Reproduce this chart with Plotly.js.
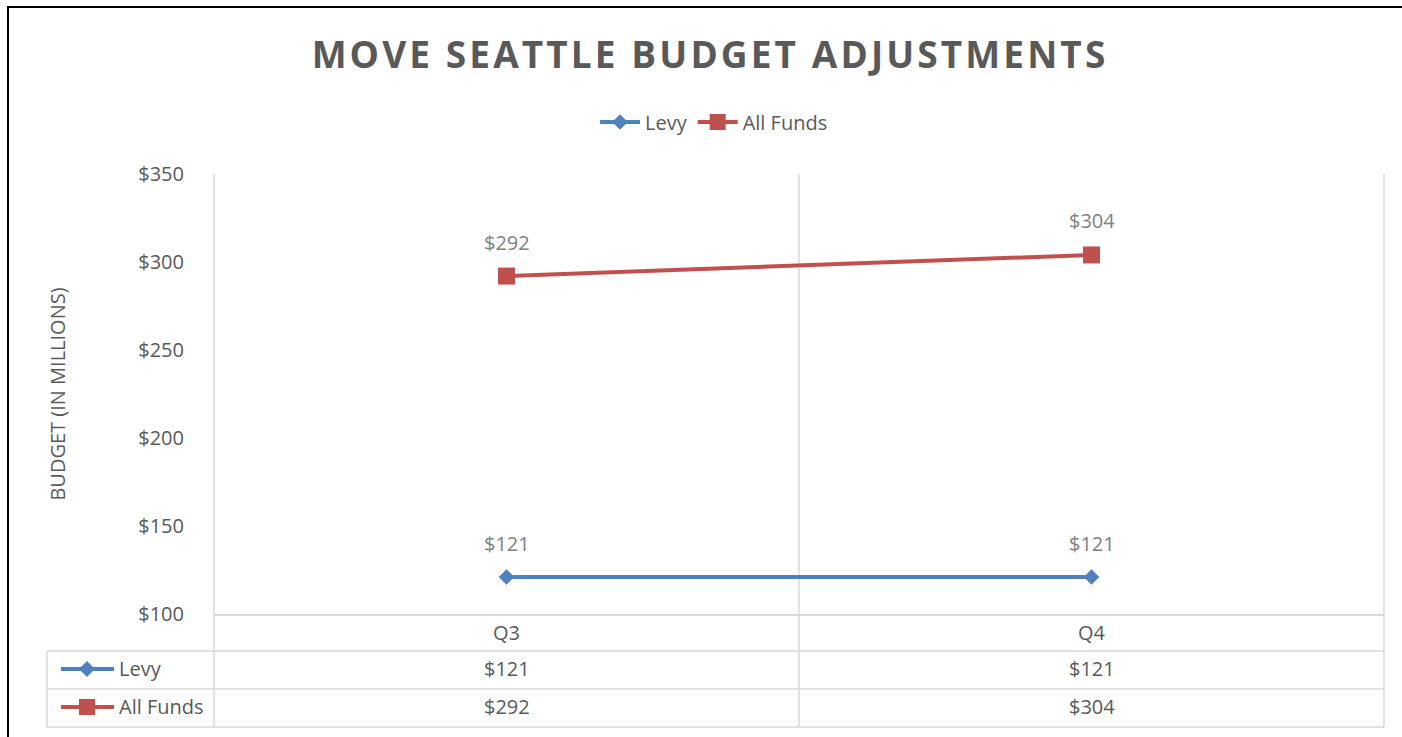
<!DOCTYPE html>
<html><head><meta charset="utf-8">
<script src="https://cdn.plot.ly/plotly-3.0.1.min.js"></script>
<style>html,body{margin:0;padding:0;background:#fff;} #chart{width:1402px;height:737px;}</style>
</head><body><div id="chart"></div>
<script>
// ---- data ----
const categories = ['Q3', 'Q4'];
const seriesNames = ['Levy', 'All Funds'];
const levyValues = [121, 121];
const allFundsValues = [292, 304];
const yTickValues = [100, 150, 200, 250, 300, 350];
const yTickLabels = ['$100', '$150', '$200', '$250', '$300', '$350'];
const chartTitle = 'MOVE SEATTLE BUDGET ADJUSTMENTS';
const yAxisTitle = 'BUDGET (IN MILLIONS)';

// ---- geometry helpers ----
const W = 1402, H = 737, L = 214, R = 1384, T = 174, B = 614;
const px = x => (x - L) / (R - L);
const py = y => (B - y) / (B - T);
const grid = '#d9d9d9', txt = '#595959', lbl = '#7f7f7f';
const blue = '#4F81BD', red = '#C0504D';
const FONT = '"Open Sans", sans-serif';
const fmt = v => '$' + v;

const series = [
  {name: seriesNames[0], values: levyValues, color: blue, symbol: 'diamond', size: 12},
  {name: seriesNames[1], values: allFundsValues, color: red, symbol: 'square', size: 17}
];

const traces = series.map(s => ({
  type: 'scatter', mode: 'lines+markers', x: categories, y: s.values, name: s.name,
  line: {color: s.color, width: 4},
  marker: {symbol: s.symbol, size: s.size, color: s.color},
  hoverinfo: 'skip', cliponaxis: false
}));

const annotations = [];
const rowCenters = [668, 706];
series.forEach((s, i) => {
  s.values.forEach((v, j) => {
    // data labels
    annotations.push({x: categories[j], y: v, xref: 'x', yref: 'y', text: fmt(v), showarrow: false,
      yshift: 34, font: {family: FONT, size: 20, color: lbl}});
    // data table values
    annotations.push({x: categories[j], y: py(rowCenters[i]), xref: 'x', yref: 'paper', text: fmt(v),
      showarrow: false, yanchor: 'middle', font: {family: FONT, size: 20, color: txt}});
  });
  annotations.push({x: px(117), y: py(rowCenters[i]), xref: 'paper', yref: 'paper', text: s.name,
    showarrow: false, xanchor: 'left', yanchor: 'middle', font: {family: FONT, size: 20, color: txt}});
});

const gl = {color: grid, width: 1.5};
const shapes = [];
// vertical grid/table lines
[214, 799, 1384].forEach(x => shapes.push({type: 'line', xref: 'paper', yref: 'paper',
  x0: px(x), x1: px(x), y0: py(174), y1: py(727), line: gl, layer: 'below'}));
// table horizontal lines
[651, 689, 727].forEach(y => shapes.push({type: 'line', xref: 'paper', yref: 'paper',
  x0: px(47), x1: px(1384), y0: py(y), y1: py(y), line: gl, layer: 'below'}));
shapes.push({type: 'line', xref: 'paper', yref: 'paper', x0: px(47), x1: px(47), y0: py(651), y1: py(727), line: gl, layer: 'below'});
// legend keys in table
const keyRows = [669, 707];
series.forEach((s, i) => {
  const yc = keyRows[i];
  shapes.push({type: 'line', xref: 'paper', yref: 'paper', x0: px(61), x1: px(114), y0: py(yc), y1: py(yc),
    line: {color: s.color, width: 4}});
  const cx = 87;
  let path;
  if (s.symbol === 'diamond') {
    path = `M${px(cx - 8)},${py(yc)} L${px(cx)},${py(yc - 8)} L${px(cx + 8)},${py(yc)} L${px(cx)},${py(yc + 8)} Z`;
  } else {
    path = `M${px(cx - 8)},${py(yc - 8)} L${px(cx + 8)},${py(yc - 8)} L${px(cx + 8)},${py(yc + 8)} L${px(cx - 8)},${py(yc + 8)} Z`;
  }
  shapes.push({type: 'path', xref: 'paper', yref: 'paper', path: path, fillcolor: s.color, line: {width: 0}});
});
// outer frame
shapes.push({type: 'rect', xref: 'paper', yref: 'paper', x0: px(8), x1: px(1420), y0: py(7), y1: py(760),
  line: {color: '#000', width: 2}, fillcolor: 'rgba(0,0,0,0)'});

const layout = {
  width: W, height: H,
  margin: {l: L, r: W - R, t: T, b: H - B},
  paper_bgcolor: '#fff', plot_bgcolor: 'rgba(0,0,0,0)',
  font: {family: FONT, color: txt},
  title: {text: chartTitle, xref: 'container', yref: 'container', x: 710 / W, y: 1 - 55 / H,
    xanchor: 'center', yanchor: 'middle', font: {family: FONT, size: 37, color: txt, weight: 'bold'}},
  showlegend: true,
  legend: {orientation: 'h', x: px(714), xanchor: 'center', y: py(122), yanchor: 'middle',
    font: {family: FONT, size: 20, color: txt}, bgcolor: 'rgba(0,0,0,0)', itemwidth: 40},
  xaxis: {type: 'category', range: [-0.5, 1.5], showgrid: false, zeroline: false,
    showline: true, linecolor: grid, linewidth: 1.5, ticks: '',
    tickfont: {family: FONT, size: 20, color: txt}, fixedrange: true},
  yaxis: {range: [100, 350], tickvals: yTickValues, ticktext: yTickLabels, showgrid: false, zeroline: false,
    showline: false, ticks: 'outside', ticklen: 25, tickcolor: 'rgba(0,0,0,0)',
    tickfont: {family: FONT, size: 20, color: txt}, fixedrange: true,
    title: {text: yAxisTitle, font: {family: FONT, size: 20, color: txt}, standoff: 67}},
  annotations: annotations,
  shapes: shapes
};

Plotly.newPlot('chart', traces, layout, {staticPlot: true, displayModeBar: false}).then(gd => {
  const t = gd.querySelector('.gtitle');
  if (t) t.style.letterSpacing = '3.1px';
});
</script>
</body></html>
